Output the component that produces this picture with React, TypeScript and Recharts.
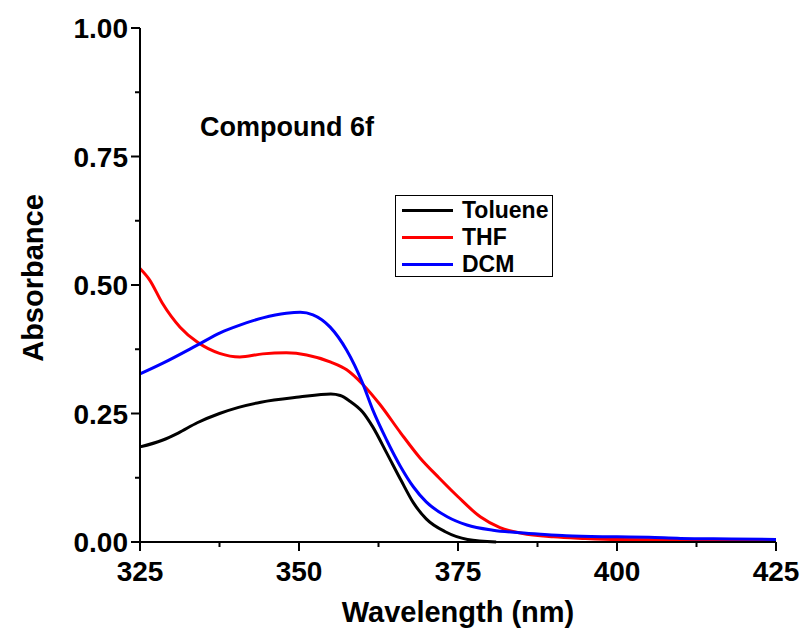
import { LineChart, Line, XAxis, YAxis, Legend, Label } from "recharts";

// wavelength (nm) / absorbance pairs
const tolueneWl = [325, 328.5, 331, 334, 337.5, 340.5, 344, 350, 355, 356.5, 358, 360, 361.6, 363.8, 366, 368, 370, 373, 376.5, 381];
const tolueneAbs = [0.185, 0.198, 0.212, 0.232, 0.25, 0.262, 0.272, 0.282, 0.288, 0.285, 0.274, 0.253, 0.224, 0.173, 0.121, 0.076, 0.045, 0.02, 0.005, 0];

const thfWl = [325, 326.5, 328.5, 331.3, 334, 337.5, 340.7, 344.3, 348, 351.2, 355, 357.5, 360, 362.7, 366, 369, 372, 375, 378.5, 381.6, 385, 390, 395, 400, 410, 425];
const thfAbs = [0.532, 0.51, 0.465, 0.418, 0.389, 0.367, 0.36, 0.366, 0.368, 0.364, 0.35, 0.335, 0.307, 0.268, 0.212, 0.164, 0.125, 0.088, 0.049, 0.028, 0.017, 0.01, 0.007, 0.005, 0.004, 0.003];

const dcmWl = [325, 328.6, 334, 337.6, 340.7, 344.3, 348, 350.2, 352.2, 354.9, 357.5, 360, 361.6, 363.8, 366, 368, 370, 373.3, 376.4, 380.5, 384.7, 388, 392, 400, 405, 410, 418, 425];
const dcmAbs = [0.327, 0.348, 0.383, 0.407, 0.422, 0.436, 0.445, 0.447, 0.442, 0.418, 0.373, 0.309, 0.257, 0.198, 0.146, 0.107, 0.078, 0.049, 0.033, 0.023, 0.018, 0.015, 0.012, 0.01, 0.009, 0.007, 0.006, 0.005];

const xTicks = [325, 337.5, 350, 362.5, 375, 387.5, 400, 412.5, 425];
const yTicks = [0, 0.125, 0.25, 0.375, 0.5, 0.625, 0.75, 0.875, 1];

const series = [
  { name: "Toluene", color: "#000000", wl: tolueneWl, abs: tolueneAbs },
  { name: "THF", color: "#ff0000", wl: thfWl, abs: thfAbs },
  { name: "DCM", color: "#0000ff", wl: dcmWl, abs: dcmAbs },
];

const font = '"Liberation Sans", Arial, sans-serif';

const zip = (wl: number[], abs: number[]) => wl.map((w, i) => ({ wl: w, abs: abs[i] }));

const XTick = (props: any) => {
  const { x, y, payload } = props;
  const major = payload.value % 25 === 0;
  return (
    <g>
      <line x1={x} y1={y} x2={x} y2={y + (major ? 9 : 5)} stroke="#000" strokeWidth={2} />
      {major && (
        <text x={x} y={y + 39} textAnchor="middle" fontSize={28} fontWeight="bold" fontFamily={font} fill="#000">
          {payload.value}
        </text>
      )}
    </g>
  );
};

const YTick = (props: any) => {
  const { x, y, payload } = props;
  const major = Math.round(payload.value * 1000) % 250 === 0;
  return (
    <g>
      <line x1={x} y1={y} x2={x - (major ? 9 : 5)} y2={y} stroke="#000" strokeWidth={2} />
      {major && (
        <text x={x - 12} y={y} dy="0.36em" textAnchor="end" fontSize={28} fontWeight="bold" fontFamily={font} fill="#000">
          {payload.value.toFixed(2)}
        </text>
      )}
    </g>
  );
};

const LegendBox = () => (
  <div
    style={{
      boxSizing: "border-box",
      border: "1px solid #000",
      background: "#fff",
      width: 158,
      height: 82,
      padding: "1px 0 0 6px",
      fontFamily: font,
    }}
  >
    {series.map((s) => (
      <div key={s.name} style={{ display: "flex", alignItems: "center", height: 27 }}>
        <div style={{ width: 51, height: 3, background: s.color, marginRight: 9, flexShrink: 0 }} />
        <span style={{ fontSize: 23, fontWeight: "bold", color: "#000", whiteSpace: "nowrap" }}>{s.name}</span>
      </div>
    ))}
  </div>
);

export default function App() {
  return (
    <div style={{ position: "relative", width: 803, height: 635 }}>
      <style>{"body{margin:0;overflow:hidden}"}</style>
      <LineChart width={803} height={635} margin={{ top: 28, right: 27, left: 60, bottom: 33 }}>
        <XAxis
          type="number"
          dataKey="wl"
          domain={[325, 425]}
          ticks={xTicks}
          interval={0}
          allowDuplicatedCategory={false}
          height={60}
          tickSize={0}
          tickMargin={0}
          tickLine={false}
          tick={<XTick />}
          axisLine={{ stroke: "#000", strokeWidth: 2 }}
        >
          <Label
            content={({ viewBox }: any) => (
              <text
                x={viewBox.x + viewBox.width / 2}
                y={viewBox.y + 80}
                textAnchor="middle"
                fontSize={29}
                fontWeight="bold"
                fontFamily={font}
                fill="#000"
              >
                Wavelength (nm)
              </text>
            )}
          />
        </XAxis>
        <YAxis
          type="number"
          domain={[0, 1]}
          ticks={yTicks}
          interval={0}
          width={80}
          tickSize={0}
          tickMargin={0}
          tickLine={false}
          tick={<YTick />}
          axisLine={{ stroke: "#000", strokeWidth: 2 }}
        >
          <Label
            content={({ viewBox }: any) => {
              const cx = 33;
              const cy = viewBox.y + viewBox.height / 2 - 7;
              return (
                <text
                  x={cx}
                  y={cy}
                  transform={`rotate(-90, ${cx}, ${cy})`}
                  textAnchor="middle"
                  dominantBaseline="central"
                  fontSize={29}
                  fontWeight="bold"
                  fontFamily={font}
                  fill="#000"
                >
                  Absorbance
                </text>
              );
            }}
          />
        </YAxis>
        <Legend
          layout="vertical"
          align="center"
          verticalAlign="middle"
          content={<LegendBox />}
          wrapperStyle={{ left: 395, top: 195, width: "auto" }}
        />
        {series.map((s) => (
          <Line
            key={s.name}
            data={zip(s.wl, s.abs)}
            dataKey="abs"
            name={s.name}
            type="monotone"
            stroke={s.color}
            strokeWidth={3}
            dot={false}
            isAnimationActive={false}
          />
        ))}
      </LineChart>
      <div
        style={{
          position: "absolute",
          left: 200,
          top: 112,
          fontFamily: font,
          fontSize: 27,
          fontWeight: "bold",
          color: "#000",
          whiteSpace: "nowrap",
        }}
      >
        Compound 6f
      </div>
    </div>
  );
}
